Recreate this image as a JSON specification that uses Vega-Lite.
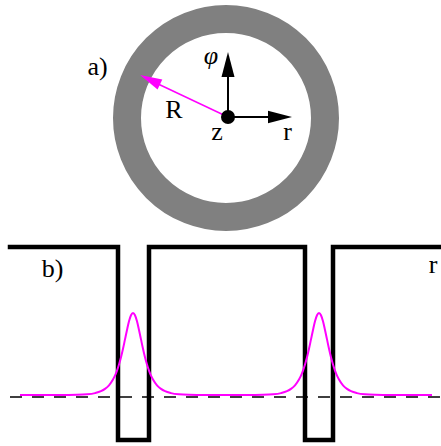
{
  "$schema": "https://vega.github.io/schema/vega-lite/v6.json",
  "width": 441,
  "height": 446,
  "autosize": {"type": "none"},
  "padding": 0,
  "background": "white",
  "config": {"view": {"stroke": null}},
  "datasets": {
    "ring": [{"x": 226, "y": 118}],
    "upShaft": [{"x": 228, "y": 117, "i": 0}, {"x": 228, "y": 74, "i": 1}],
    "rightShaft": [{"x": 228, "y": 117, "i": 0}, {"x": 270, "y": 117, "i": 1}],
    "magShaft": [{"x": 228, "y": 117, "i": 0}, {"x": 156, "y": 83, "i": 1}],
    "upHead": [{"x": 228, "y": 64.5}],
    "rightHead": [{"x": 280, "y": 117}],
    "magHead": [{"x": 150, "y": 79.7}],
    "dot": [{"x": 228, "y": 117}],
    "labelsUpright": [
      {"x": 97.5, "y": 75, "t": "a)"},
      {"x": 174, "y": 118, "t": "R"},
      {"x": 217, "y": 140, "t": "z"},
      {"x": 287.5, "y": 140, "t": "r"},
      {"x": 52.5, "y": 277, "t": "b)"},
      {"x": 433, "y": 273, "t": "r"}
    ],
    "labelsItalic": [{"x": 211, "y": 64, "t": "φ"}],
    "step": [
      {"x": 10, "y": 247, "i": 0},
      {"x": 118, "y": 247, "i": 1},
      {"x": 118, "y": 440, "i": 2},
      {"x": 149, "y": 440, "i": 3},
      {"x": 149, "y": 247, "i": 4},
      {"x": 305, "y": 247, "i": 5},
      {"x": 305, "y": 440, "i": 6},
      {"x": 333, "y": 440, "i": 7},
      {"x": 333, "y": 247, "i": 8},
      {"x": 441, "y": 247, "i": 9}
    ],
    "dashed": [{"x": 10, "y": 397, "i": 0}, {"x": 441, "y": 397, "i": 1}],
    "peaks": [
      {"x": 20, "y": 395}, {"x": 60, "y": 395}, {"x": 77, "y": 394.8}, {"x": 87, "y": 394.3},
      {"x": 95, "y": 393.1}, {"x": 101, "y": 391.2}, {"x": 105, "y": 388.9}, {"x": 109, "y": 385.3},
      {"x": 113, "y": 379.5}, {"x": 115, "y": 375.6}, {"x": 117, "y": 370.6}, {"x": 119, "y": 364.5},
      {"x": 121, "y": 357.3}, {"x": 123, "y": 348.8}, {"x": 125, "y": 339.4}, {"x": 127, "y": 330.0},
      {"x": 129, "y": 321.3}, {"x": 131, "y": 315.2}, {"x": 133, "y": 313}, {"x": 135, "y": 315.2},
      {"x": 137, "y": 321.3}, {"x": 139, "y": 330.0}, {"x": 141, "y": 339.4}, {"x": 143, "y": 348.8},
      {"x": 145, "y": 357.3}, {"x": 147, "y": 364.5}, {"x": 149, "y": 370.6}, {"x": 151, "y": 375.6},
      {"x": 153, "y": 379.5}, {"x": 157, "y": 385.3}, {"x": 161, "y": 388.9}, {"x": 165, "y": 391.2},
      {"x": 171, "y": 393.1}, {"x": 179, "y": 394.3}, {"x": 189, "y": 394.8}, {"x": 205, "y": 395},
      {"x": 247, "y": 395}, {"x": 263, "y": 394.8}, {"x": 273, "y": 394.3}, {"x": 281, "y": 393.1},
      {"x": 287, "y": 391.2}, {"x": 291, "y": 388.9}, {"x": 295, "y": 385.3}, {"x": 299, "y": 379.5},
      {"x": 301, "y": 375.6}, {"x": 303, "y": 370.6}, {"x": 305, "y": 364.5}, {"x": 307, "y": 357.3},
      {"x": 309, "y": 348.8}, {"x": 311, "y": 339.4}, {"x": 313, "y": 330.0}, {"x": 315, "y": 321.3},
      {"x": 317, "y": 315.2}, {"x": 319, "y": 313}, {"x": 321, "y": 315.2}, {"x": 323, "y": 321.3},
      {"x": 325, "y": 330.0}, {"x": 327, "y": 339.4}, {"x": 329, "y": 348.8}, {"x": 331, "y": 357.3},
      {"x": 333, "y": 364.5}, {"x": 335, "y": 370.6}, {"x": 337, "y": 375.6}, {"x": 339, "y": 379.5},
      {"x": 343, "y": 385.3}, {"x": 347, "y": 388.9}, {"x": 351, "y": 391.2}, {"x": 357, "y": 393.1},
      {"x": 365, "y": 394.3}, {"x": 375, "y": 394.8}, {"x": 391, "y": 395}, {"x": 432, "y": 395}
    ]
  },
  "encoding": {
    "x": {"field": "x", "type": "quantitative", "scale": {"domain": [0, 441], "nice": false, "zero": false}, "axis": null},
    "y": {"field": "y", "type": "quantitative", "scale": {"domain": [0, 446], "nice": false, "zero": false, "reverse": true}, "axis": null}
  },
  "layer": [
    {
      "data": {"name": "ring"},
      "mark": {"type": "point", "shape": "circle", "filled": false, "size": 39204, "strokeWidth": 28, "color": "#808080", "opacity": 1}
    },
    {
      "data": {"name": "upShaft"},
      "mark": {"type": "line", "color": "black", "strokeWidth": 2},
      "encoding": {"order": {"field": "i"}}
    },
    {
      "data": {"name": "rightShaft"},
      "mark": {"type": "line", "color": "black", "strokeWidth": 2},
      "encoding": {"order": {"field": "i"}}
    },
    {
      "data": {"name": "magShaft"},
      "mark": {"type": "line", "color": "#ff00ff", "strokeWidth": 1.5},
      "encoding": {"order": {"field": "i"}}
    },
    {
      "data": {"name": "upHead"},
      "mark": {"type": "point", "shape": "M0,-1L0.52,1L-0.52,1Z", "filled": true, "size": 625, "color": "black", "opacity": 1, "strokeWidth": 0, "angle": 0}
    },
    {
      "data": {"name": "rightHead"},
      "mark": {"type": "point", "shape": "M0,-1L0.52,1L-0.52,1Z", "filled": true, "size": 576, "color": "black", "opacity": 1, "strokeWidth": 0, "angle": 90}
    },
    {
      "data": {"name": "magHead"},
      "mark": {"type": "point", "shape": "M0,-1L0.5,1L-0.5,1Z", "filled": true, "size": 484, "color": "#ff00ff", "opacity": 1, "strokeWidth": 0, "angle": 295.5}
    },
    {
      "data": {"name": "dot"},
      "mark": {"type": "point", "shape": "circle", "filled": true, "size": 196, "color": "black", "opacity": 1}
    },
    {
      "data": {"name": "labelsUpright"},
      "mark": {"type": "text", "font": "Times New Roman", "fontSize": 26, "align": "center", "baseline": "alphabetic", "color": "black"},
      "encoding": {"text": {"field": "t"}}
    },
    {
      "data": {"name": "labelsItalic"},
      "mark": {"type": "text", "font": "Times New Roman", "fontStyle": "italic", "fontSize": 26, "align": "center", "baseline": "alphabetic", "color": "black"},
      "encoding": {"text": {"field": "t"}}
    },
    {
      "data": {"name": "dashed"},
      "mark": {"type": "line", "color": "black", "strokeWidth": 1.5, "strokeDash": [12, 10]},
      "encoding": {"order": {"field": "i"}}
    },
    {
      "data": {"name": "step"},
      "mark": {"type": "line", "color": "black", "strokeWidth": 4.5, "strokeJoin": "miter", "strokeCap": "square"},
      "encoding": {"order": {"field": "i"}}
    },
    {
      "data": {"name": "peaks"},
      "mark": {"type": "line", "color": "#ff00ff", "strokeWidth": 2, "interpolate": "monotone"}
    }
  ]
}
